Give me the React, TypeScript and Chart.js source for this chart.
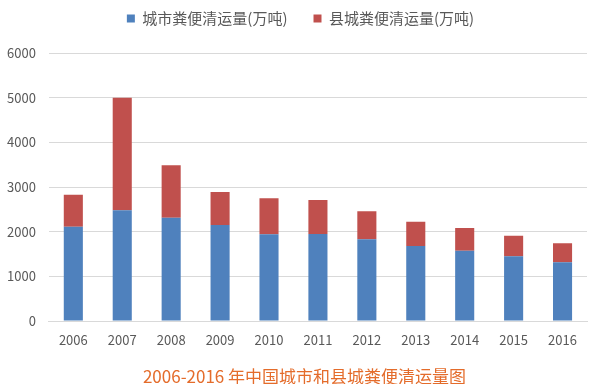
import React, { useEffect, useRef } from "react";
import { Chart, registerables } from "chart.js";

Chart.register(...registerables);

const years = ["2006", "2007", "2008", "2009", "2010", "2011", "2012", "2013", "2014", "2015", "2016"];
const cityValues = [2111, 2478, 2313, 2149, 1940, 1948, 1828, 1679, 1575, 1448, 1313];
const countyValues = [717, 2522, 1173, 739, 806, 761, 627, 545, 507, 462, 426];
const seriesNames = ["城市粪便清运量(万吨)", "县城粪便清运量(万吨)"];
const chartTitle = "2006-2016 年中国城市和县城粪便清运量图";

const FONT = "'Noto Sans CJK SC', 'Noto Sans', sans-serif";

const legendSpacing = {
  id: "legendSpacing",
  beforeInit(chart: any) {
    const legend = chart.legend;
    if (!legend) return;
    const origFit = legend.fit;
    legend.fit = function () {
      origFit.call(this);
      this.height += 17;
    };
  },
  afterLayout(chart: any) {
    const legend = chart.legend;
    if (legend) {
      legend.left += 10;
      legend.right += 10;
    }
    const title = chart.titleBlock;
    if (title) {
      title.left += 14;
      title.right += 14;
    }
  },
};

export default function App() {
  const ref = useRef<HTMLCanvasElement | null>(null);
  useEffect(() => {
    if (!ref.current) return;
    const chart = new Chart(ref.current, {
      type: "bar",
      data: {
        labels: years,
        datasets: [
          { label: seriesNames[0], data: cityValues, backgroundColor: "#4F81BD", barPercentage: 0.39, categoryPercentage: 1 },
          { label: seriesNames[1], data: countyValues, backgroundColor: "#C0504D", barPercentage: 0.39, categoryPercentage: 1 },
        ],
      },
      options: {
        animation: false,
        responsive: false,
        maintainAspectRatio: false,
        layout: { padding: { left: -6, right: 13, top: -15, bottom: -3 } },
        plugins: {
          legend: {
            position: "top",
            labels: {
              boxWidth: 8,
              boxHeight: 8,
              padding: 26,
              color: "#595959",
              font: { family: FONT, size: 15 },
            },
          },
          title: {
            display: true,
            text: chartTitle,
            position: "bottom",
            color: "#E46C2B",
            font: { family: FONT, size: 17, weight: "normal" },
            padding: { top: 8, bottom: 0 },
          },
          tooltip: { enabled: false },
        },
        scales: {
          x: {
            stacked: true,
            grid: { display: false, drawTicks: false },
            border: { display: true, color: "#D9D9D9" },
            ticks: { color: "#595959", font: { family: FONT, size: 13 }, padding: 11 },
          },
          y: {
            stacked: true,
            min: 0,
            max: 6000,
            ticks: {
              stepSize: 1000,
              color: "#595959",
              font: { family: FONT, size: 13 },
              padding: 13,
              callback: (v: any) => String(v),
            },
            grid: { color: "#D9D9D9", drawTicks: false },
            border: { display: false },
          },
        },
      },
      plugins: [legendSpacing],
    });
    return () => chart.destroy();
  }, []);
  return (
    <div style={{ position: "fixed", left: 0, top: 0, width: 600, height: 384, background: "#fff" }}>
      <canvas ref={ref} width={600} height={384} />
    </div>
  );
}
